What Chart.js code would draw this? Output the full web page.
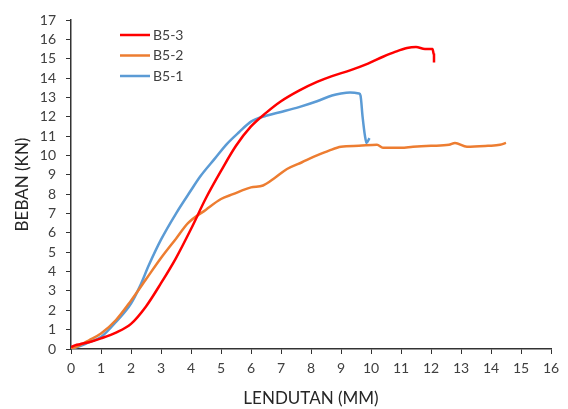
<!DOCTYPE html>
<html>
<head>
<meta charset="utf-8">
<script src="https://cdn.jsdelivr.net/npm/chart.js@4.4.1/dist/chart.umd.min.js"></script>
<style>
  html, body { margin: 0; padding: 0; background: #fff; }
  #wrap { width: 568px; height: 409px; }
</style>
</head>
<body>
<div id="wrap"><canvas id="canvas"></canvas></div>
<script>
// load-deflection data (x = lendutan mm, y = beban kN)
const b53x = [0, 0.15, 0.3, 0.6, 1.0, 1.5, 2.0, 2.5, 3.0, 3.5, 4.0, 4.5, 5.0, 5.5, 6.0, 6.5, 7.0, 7.6, 8.2, 8.7, 9.3, 9.9, 10.4, 10.8, 11.2, 11.5, 11.8, 12.05, 12.1, 12.1];
const b53y = [0.1, 0.2, 0.25, 0.35, 0.55, 0.85, 1.3, 2.2, 3.4, 4.7, 6.2, 7.8, 9.2, 10.5, 11.5, 12.2, 12.8, 13.35, 13.8, 14.1, 14.4, 14.75, 15.1, 15.35, 15.55, 15.6, 15.5, 15.5, 15.2, 14.8];

const b52x = [0, 0.3, 0.6, 1.0, 1.5, 2.0, 2.5, 3.0, 3.5, 3.9, 4.5, 5.0, 5.4, 6.0, 6.4, 6.8, 7.2, 7.7, 8.2, 8.6, 9.0, 9.6, 10.2, 10.4, 11.0, 11.4, 12.0, 12.6, 12.8, 13.2, 13.9, 14.3, 14.5];
const b52y = [0, 0.2, 0.45, 0.8, 1.5, 2.5, 3.6, 4.7, 5.7, 6.5, 7.2, 7.75, 8.0, 8.35, 8.45, 8.85, 9.3, 9.65, 10.0, 10.25, 10.45, 10.5, 10.55, 10.4, 10.4, 10.45, 10.5, 10.55, 10.65, 10.45, 10.5, 10.55, 10.65];

const b51x = [0, 0.3, 0.6, 1.0, 1.5, 2.0, 2.3, 2.6, 3.0, 3.5, 4.0, 4.3, 4.8, 5.2, 5.6, 6.0, 6.5, 7.0, 7.6, 8.2, 8.7, 9.0, 9.3, 9.6, 9.65, 9.72, 9.8, 9.85, 9.95];
const b51y = [0, 0.15, 0.35, 0.62, 1.4, 2.35, 3.25, 4.35, 5.65, 7.0, 8.2, 8.9, 9.85, 10.6, 11.2, 11.75, 12.05, 12.25, 12.5, 12.8, 13.1, 13.2, 13.25, 13.2, 13.1, 12.0, 11.0, 10.65, 10.9];

const seriesNames = ['B5-3', 'B5-2', 'B5-1'];
const seriesColors = ['#ff0000', '#ed7d31', '#5b9bd5'];

const xTicks = [0, 1, 2, 3, 4, 5, 6, 7, 8, 9, 10, 11, 12, 13, 14, 15, 16];
const yTicks = [0, 1, 2, 3, 4, 5, 6, 7, 8, 9, 10, 11, 12, 13, 14, 15, 16, 17];

function pts(xs, ys) {
    let out = [];
    for (let i = 0; i < xs.length; i++) out.push({ x: xs[i], y: ys[i] });
    return out;
}

const allX = [b53x, b52x, b51x];
const allY = [b53y, b52y, b51y];
let datasets = [];
for (let i = 0; i < 3; i++) {
    datasets.push({
        label: seriesNames[i],
        data: pts(allX[i], allY[i]),
        borderColor: seriesColors[i],
        backgroundColor: seriesColors[i],
        borderWidth: 2.5,
        pointRadius: 0,
        showLine: true,
        cubicInterpolationMode: 'monotone'
    });
}

// legend drawn inside the plot, top left
const insideLegend = {
    id: 'insideLegend',
    afterDraw(chart) {
        const c = chart.ctx;
        c.save();
        c.font = '14px Lato';
        c.textBaseline = 'middle';
        chart.data.datasets.forEach((ds, i) => {
            const y = 35 + i * 20.5;
            c.strokeStyle = ds.borderColor;
            c.lineWidth = 2.5;
            c.beginPath();
            c.moveTo(120, y);
            c.lineTo(150, y);
            c.stroke();
            c.fillStyle = '#404040';
            c.fillText(ds.label, 153, y);
        });
        c.restore();
    }
};

const ctx = document.getElementById('canvas').getContext('2d');
new Chart(ctx, {
    type: 'scatter',
    data: { datasets: datasets },
    plugins: [insideLegend],
    options: {
        responsive: true,
        maintainAspectRatio: false,
        animation: false,
        layout: { padding: { top: 20, right: 17, left: 0, bottom: 0 } },
        plugins: { legend: { display: false }, tooltip: { enabled: false } },
        scales: {
            x: {
                type: 'linear', min: 0, max: 16,
                afterBuildTicks: s => { s.ticks = xTicks.map(v => ({ value: v })); },
                afterFit: s => { s.height = 60; },
                grid: { drawOnChartArea: false, drawTicks: true, tickLength: 5, color: '#333' },
                border: { color: '#333', width: 1.5 },
                ticks: { color: '#404040', font: { family: 'Lato', size: 14 }, padding: 6, maxRotation: 0, autoSkip: false },
                title: { display: true, text: 'LENDUTAN (MM)', color: '#262626', font: { family: 'Lato', size: 17 }, padding: { top: 0, bottom: 0 } }
            },
            y: {
                type: 'linear', min: 0, max: 17,
                afterBuildTicks: s => { s.ticks = yTicks.map(v => ({ value: v })); },
                afterFit: s => { s.width = 71; },
                grid: { drawOnChartArea: false, drawTicks: true, tickLength: 5, color: '#333' },
                border: { color: '#333', width: 1.5 },
                ticks: { color: '#404040', font: { family: 'Lato', size: 14 }, padding: 10, autoSkip: false },
                title: { display: true, text: 'BEBAN (KN)', color: '#262626', font: { family: 'Lato', size: 17 }, padding: { top: 12, bottom: 0 } }
            }
        }
    }
});
</script>
</body>
</html>
